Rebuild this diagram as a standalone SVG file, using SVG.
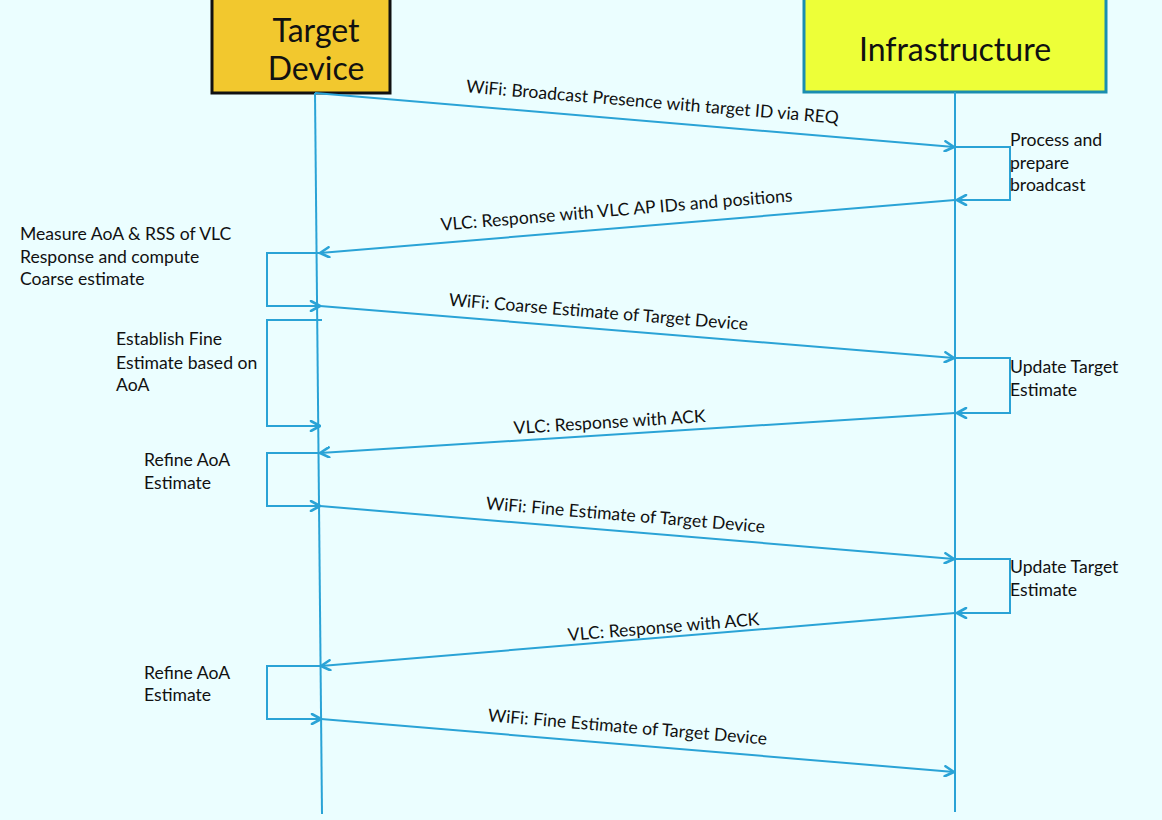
<svg xmlns="http://www.w3.org/2000/svg" width="1162" height="820" viewBox="0 0 1162 820">
<style>
.bg{fill:#ebfeff}
.ln{stroke:#2aa3d6;stroke-width:2;fill:none}
.msg{stroke:#2aa3d6;stroke-width:2;fill:none;marker-end:url(#ah)}
.t{font-family:Lato,"Liberation Sans",sans-serif;font-size:17.6px;fill:#111}
.lbl{font-family:Lato,"Liberation Sans",sans-serif;font-size:17.6px;fill:#111;text-anchor:middle}
.hd{font-family:Lato,"Liberation Sans",sans-serif;font-size:32px;fill:#111;text-anchor:middle}
</style>
<defs>
<marker id="ah" viewBox="0 0 12 12" refX="11" refY="6" markerWidth="12" markerHeight="12" markerUnits="userSpaceOnUse" orient="auto">
<path d="M2,1 L11,6 L2,11" fill="none" stroke="#2aa3d6" stroke-width="2.6" stroke-linecap="round" stroke-linejoin="round"/>
</marker>
</defs>
<rect class="bg" x="0" y="0" width="1162" height="820"/>

<g id="target-device">
<rect x="212" y="-2" width="178" height="95" fill="#f2c82e" stroke="#111" stroke-width="3"/>
<text class="hd" x="316" y="42">Target</text>
<text class="hd" x="316" y="80">Device</text>
</g>
<g id="infrastructure">
<rect x="804" y="-2" width="302" height="94" fill="#edff38" stroke="#1a8db0" stroke-width="3"/>
<text class="hd" x="955" y="61">Infrastructure</text>
</g>

<g id="lifelines">
<line class="ln" x1="315" y1="93" x2="322" y2="814"/>
<line class="ln" x1="955" y1="92" x2="955" y2="812"/>
</g>

<g id="connectors">
<line class="msg" x1="315" y1="93" x2="954" y2="147"/>
<polyline class="msg" points="955,147 1010,147 1010,200 957,200"/>
<line class="msg" x1="955" y1="200" x2="320" y2="253"/>
<polyline class="msg" points="320,253 267,253 267,306 320,306"/>
<line class="msg" x1="320" y1="306" x2="954" y2="358"/>
<polyline class="msg" points="322,320 267,320 267,426 320,426"/>
<polyline class="msg" points="955,358 1010,358 1010,413 957,413"/>
<line class="msg" x1="955" y1="413" x2="320" y2="453"/>
<polyline class="msg" points="320,453 267,453 267,506 320,506"/>
<line class="msg" x1="320" y1="506" x2="954" y2="559"/>
<polyline class="msg" points="955,559 1010,559 1010,613 957,613"/>
<line class="msg" x1="955" y1="613" x2="321" y2="666"/>
<polyline class="msg" points="321,666 267,666 267,719 321,719"/>
<line class="msg" x1="321" y1="719" x2="954" y2="772"/>
</g>

<g id="message-labels">
<text class="lbl" transform="translate(652,108) rotate(4.8)">WiFi: Broadcast Presence with target ID via REQ</text>
<text class="lbl" transform="translate(617,216) rotate(-4.8)">VLC: Response with VLC AP IDs and positions</text>
<text class="lbl" transform="translate(598,318) rotate(4.7)">WiFi: Coarse Estimate of Target Device</text>
<text class="lbl" transform="translate(610,428) rotate(-3.6)">VLC: Response with ACK</text>
<text class="lbl" transform="translate(625,521) rotate(4.8)">WiFi: Fine Estimate of Target Device</text>
<text class="lbl" transform="translate(664,633) rotate(-4.8)">VLC: Response with ACK</text>
<text class="lbl" transform="translate(627,733) rotate(4.8)">WiFi: Fine Estimate of Target Device</text>
</g>

<g id="note-process">
<text class="t" x="1010" y="146">Process and</text>
<text class="t" x="1010" y="169">prepare</text>
<text class="t" x="1010" y="191">broadcast</text>
</g>
<g id="note-measure">
<text class="t" x="20" y="240">Measure AoA &amp; RSS of VLC</text>
<text class="t" x="20" y="263">Response and compute</text>
<text class="t" x="20" y="285">Coarse estimate</text>
</g>
<g id="note-establish">
<text class="t" x="116" y="345">Establish Fine</text>
<text class="t" x="116" y="369">Estimate based on</text>
<text class="t" x="116" y="391">AoA</text>
</g>
<g id="note-update-1">
<text class="t" x="1010" y="373">Update Target</text>
<text class="t" x="1010" y="396">Estimate</text>
</g>
<g id="note-refine-1">
<text class="t" x="144" y="466">Refine AoA</text>
<text class="t" x="144" y="489">Estimate</text>
</g>
<g id="note-update-2">
<text class="t" x="1010" y="573">Update Target</text>
<text class="t" x="1010" y="596">Estimate</text>
</g>
<g id="note-refine-2">
<text class="t" x="144" y="679">Refine AoA</text>
<text class="t" x="144" y="701">Estimate</text>
</g>
</svg>
